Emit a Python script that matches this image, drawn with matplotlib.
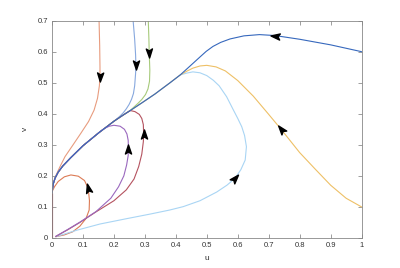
import numpy as np
import matplotlib.pyplot as plt
from matplotlib.markers import MarkerStyle
from matplotlib.path import Path
from matplotlib.transforms import Affine2D

# ticks
xticks = [0, 0.1, 0.2, 0.3, 0.4, 0.5, 0.6, 0.7, 0.8, 0.9, 1]
xtick_labels = ["0", "0.1", "0.2", "0.3", "0.4", "0.5", "0.6", "0.7", "0.8", "0.9", "1"]
yticks = [0, 0.1, 0.2, 0.3, 0.4, 0.5, 0.6, 0.7]
ytick_labels = ["0", "0.1", "0.2", "0.3", "0.4", "0.5", "0.6", "0.7"]

# common path that the middle trajectories run down to (0, 0.145)
sep_u = [0.478, 0.445, 0.414, 0.38, 0.349, 0.333, 0.29, 0.252, 0.23, 0.2, 0.15, 0.1, 0.06, 0.035, 0.02, 0.01, 0.004, 0.0]
sep_v = [0.583, 0.553, 0.525, 0.499, 0.476, 0.464, 0.435, 0.41, 0.396, 0.376, 0.338, 0.297, 0.258, 0.232, 0.212, 0.193, 0.174, 0.145]

# trajectories, in the direction of motion
main_u = [1.0, 0.9, 0.8, 0.72, 0.67, 0.62, 0.575, 0.545, 0.52, 0.498]
main_v = [0.6, 0.622, 0.64, 0.652, 0.655, 0.651, 0.641, 0.63, 0.617, 0.601]

otop_u = [0.152, 0.154, 0.155, 0.155, 0.153, 0.147, 0.136, 0.118, 0.093, 0.068, 0.042, 0.025, 0.012, 0.005, 0.0]
otop_v = [0.70, 0.62, 0.55, 0.52, 0.49, 0.45, 0.412, 0.375, 0.337, 0.3, 0.262, 0.228, 0.2, 0.178, 0.15]

mblue_u = [0.262, 0.267, 0.27, 0.271, 0.27, 0.267, 0.263, 0.257, 0.249, 0.24, 0.23, 0.218]
mblue_v = [0.70, 0.64, 0.59, 0.557, 0.53, 0.49, 0.465, 0.447, 0.43, 0.416, 0.403, 0.391]

green_u = [0.311, 0.313, 0.314, 0.316, 0.315, 0.31, 0.302, 0.29, 0.277, 0.264]
green_v = [0.70, 0.64, 0.597, 0.54, 0.505, 0.48, 0.462, 0.446, 0.433, 0.421]

purple_u = [0.012, 0.05, 0.09, 0.142, 0.19, 0.215, 0.232, 0.241, 0.246, 0.247, 0.246, 0.242, 0.234, 0.22, 0.2, 0.185, 0.17, 0.158]
purple_v = [0.005, 0.027, 0.051, 0.085, 0.128, 0.165, 0.2, 0.235, 0.265, 0.288, 0.315, 0.335, 0.35, 0.36, 0.363, 0.36, 0.353, 0.345]

red_u = [0.012, 0.05, 0.09, 0.142, 0.2, 0.24, 0.265, 0.28, 0.29, 0.295, 0.296, 0.295, 0.29, 0.282, 0.268, 0.255]
red_v = [0.005, 0.026, 0.05, 0.084, 0.12, 0.155, 0.19, 0.23, 0.27, 0.31, 0.335, 0.365, 0.385, 0.398, 0.407, 0.41]

loop_u = [0.012, 0.04, 0.067, 0.09, 0.11, 0.12, 0.121, 0.117, 0.105, 0.085, 0.061, 0.04, 0.02, 0.008, 0.002, 0.0]
loop_v = [0.004, 0.01, 0.02, 0.038, 0.063, 0.09, 0.12, 0.16, 0.185, 0.199, 0.203, 0.197, 0.182, 0.165, 0.153, 0.145]

lblue_u = [0.012, 0.08, 0.155, 0.24, 0.317, 0.38, 0.424, 0.478, 0.532, 0.565, 0.591, 0.61, 0.624, 0.628, 0.622,
           0.613, 0.6, 0.586, 0.564, 0.54, 0.521, 0.5, 0.478, 0.455, 0.435]
lblue_v = [0.004, 0.025, 0.045, 0.062, 0.077, 0.09, 0.101, 0.12, 0.148, 0.17, 0.192, 0.22, 0.251, 0.294, 0.33,
           0.358, 0.385, 0.412, 0.455, 0.49, 0.508, 0.523, 0.532, 0.535, 0.531]

yellow_u = [1.0, 0.95, 0.9, 0.85, 0.8, 0.74, 0.7, 0.65, 0.6, 0.56, 0.53, 0.5, 0.478, 0.455, 0.435]
yellow_v = [0.1, 0.128, 0.17, 0.222, 0.275, 0.35, 0.398, 0.457, 0.507, 0.538, 0.551, 0.556, 0.554, 0.547, 0.537]

axis_u = [0.0, 0.0]
axis_v = [0.0, 0.145]


def with_tail(u, v):
    # join a trajectory onto the common path once it reaches it
    tu = [a for a in sep_u if a < u[-1]]
    tv = [b for a, b in zip(sep_u, sep_v) if a < u[-1]]
    return list(u) + tu, list(v) + tv


# (u, v, colour, join the common path?, arrow index)
curves = [
    (axis_u, axis_v, "#a3222f", False, None),
    (loop_u, loop_v, "#dc7b55", False, 7),
    (otop_u, otop_v, "#e89c7f", False, 3),
    (lblue_u, lblue_v, "#a9d5f4", True, 10),
    (yellow_u, yellow_v, "#eec066", True, 5),
    (mblue_u, mblue_v, "#87a8de", True, 3),
    (green_u, green_v, "#a7ca7b", True, 2),
    (red_u, red_v, "#b4525f", True, 10),
    (purple_u, purple_v, "#9a68be", True, 9),
    (main_u, main_v, "#3668bd", True, 3),
]

plt.rcParams['font.family'] = ['Liberation Sans', 'DejaVu Sans']

fig = plt.figure(figsize=(4, 2.68), dpi=100)
ax = fig.add_axes([0.13, 0.112, 0.774, 0.811])
ax.set_xlim(0, 1)
ax.set_ylim(0, 0.7)

head = Path([(0.5, 0), (-0.5, 0.34), (-0.28, 0), (-0.5, -0.34), (0.5, 0)],
            [Path.MOVETO, Path.LINETO, Path.LINETO, Path.LINETO, Path.CLOSEPOLY])

arrows = []
for u, v, c, join, ai in curves:
    if join:
        u, v = with_tail(u, v)
    ax.plot(u, v, color=c, lw=0.8, solid_capstyle='round', solid_joinstyle='round')
    if ai is not None:
        arrows.append((u[ai - 1], v[ai - 1], u[ai], v[ai], u[ai + 1], v[ai + 1]))

for u0, v0, u1, v1, u2, v2 in arrows:
    p0 = ax.transData.transform((u0, v0))
    p2 = ax.transData.transform((u2, v2))
    ang = np.degrees(np.arctan2(p2[1] - p0[1], p2[0] - p0[0]))
    m = MarkerStyle(head, transform=Affine2D().rotate_deg(ang))
    ax.plot([u1], [v1], marker=m, markersize=6.5, color='k', lw=0, zorder=5)

ax.set_xticks(xticks, labels=xtick_labels)
ax.set_yticks(yticks, labels=ytick_labels)
ax.tick_params(direction='in', top=True, right=True, length=3, width=0.5,
               color='#777777', labelsize=5.5, labelcolor='#333333', pad=3)
for s in ax.spines.values():
    s.set_color('#888888')
    s.set_linewidth(0.6)

ax.set_xlabel("u", fontsize=6, color='#333333', labelpad=4)
ax.set_ylabel("v", fontsize=6, color='#333333', labelpad=6)

fig.savefig("out.png", dpi=100)
